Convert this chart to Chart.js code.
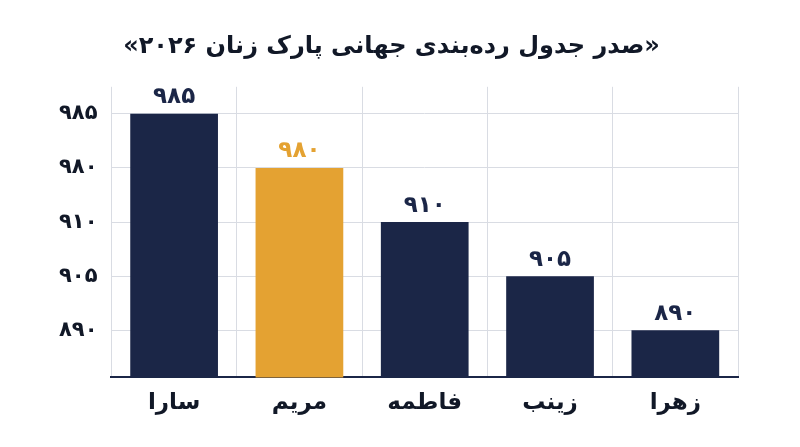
<!DOCTYPE html>
<html><head><meta charset="utf-8">
<script src="https://cdn.jsdelivr.net/npm/chart.js@4"></script>
<style>html,body{margin:0;background:#fff}#w{width:800px;height:447px}</style>
</head><body><div id="w"><canvas id="c"></canvas></div>
<script>
const title = "«صدر جدول رده‌بندی جهانی پارک زنان ۲۰۲۶»";
const categories = ["سارا","مریم","فاطمه","زینب","زهرا"];
const values = [985,980,910,905,890];
const valueLabels = ["۹۸۵","۹۸۰","۹۱۰","۹۰۵","۸۹۰"];
const tickValues = [890,905,910,980,985];
const tickLabels = ["۸۹۰","۹۰۵","۹۱۰","۹۸۰","۹۸۵"];
const colors = ["#1b2647","#e4a232","#1b2647","#1b2647","#1b2647"];
const pos = values.map(v => tickValues.indexOf(v) + 1);
const F = "'DejaVu Sans', sans-serif";
const lbl = {id:'lbl', afterDatasetsDraw(ch){
  const ctx=ch.ctx; const m=ch.getDatasetMeta(0);
  ctx.save(); ctx.font="bold 23px "+F; ctx.textAlign='center'; ctx.textBaseline='bottom';
  m.data.forEach((b,i)=>{ctx.fillStyle=i===1?"#e4a232":"#1b2647"; ctx.fillText(valueLabels[i],b.x,b.y-5);});
  ctx.restore();}};
new Chart(document.getElementById('c'),{type:'bar',
 data:{labels:categories,datasets:[{data:pos,backgroundColor:colors,barPercentage:0.7,categoryPercentage:1}]},
 options:{responsive:true,maintainAspectRatio:false,animation:false,
  layout:{padding:{left:45,right:62,top:14,bottom:18}},
  plugins:{legend:{display:false},tooltip:{enabled:false},
   title:{display:true,text:"\u202B"+title+"\u202C",font:{family:F,size:24,weight:'bold'},color:'#111827',padding:{top:18,bottom:26}}},
  scales:{
   x:{grid:{offset:true,color:'#d9dce3',drawTicks:false},border:{color:'#1b2647',width:2},
      ticks:{font:{family:F,size:23,weight:'bold'},color:'#111827',padding:12}},
   y:{min:0.13,max:5.5,grid:{color:'#d9dce3',drawTicks:false},border:{display:false},
      afterBuildTicks(ax){ax.ticks=tickValues.map((_,i)=>({value:i+1}));},
      ticks:{font:{family:F,size:21,weight:'bold'},color:'#111827',padding:14,
        callback:(v)=>tickLabels[v-1]}}}},
 plugins:[lbl]});
</script></body></html>
